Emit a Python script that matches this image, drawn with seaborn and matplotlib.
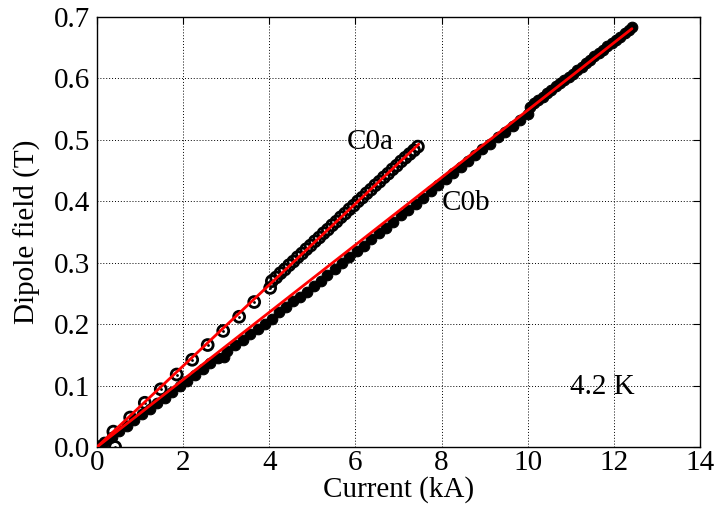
import matplotlib
matplotlib.use("Agg")
import matplotlib.pyplot as plt
import seaborn as sns
import pandas as pd

# ---- data ----
c0a_current = [0.00, 0.38, 0.42, 0.77, 1.11, 1.48, 1.85, 2.21, 2.57, 2.93, 3.30, 3.65, 4.02,
               4.06, 4.16, 4.26, 4.36, 4.46, 4.56, 4.66, 4.76, 4.86, 4.96, 5.06, 5.16, 5.26,
               5.36, 5.46, 5.56, 5.66, 5.76, 5.86, 5.96, 6.06, 6.16, 6.26, 6.36, 6.46, 6.56,
               6.66, 6.76, 6.86, 6.96, 7.06, 7.16, 7.26, 7.36, 7.45]
c0a_field = [0.000, 0.025, 0.000, 0.048, 0.072, 0.094, 0.118, 0.142, 0.166, 0.189, 0.212, 0.236, 0.259,
             0.270, 0.276, 0.283, 0.289, 0.296, 0.302, 0.309, 0.315, 0.322, 0.328, 0.335, 0.341, 0.348,
             0.354, 0.361, 0.367, 0.374, 0.380, 0.387, 0.393, 0.400, 0.406, 0.413, 0.419, 0.426, 0.432,
             0.439, 0.445, 0.452, 0.458, 0.465, 0.471, 0.477, 0.483, 0.489]

c0b_current = [0.00, 0.05, 0.17, 0.35, 0.52, 0.70, 0.87, 1.05, 1.22, 1.40, 1.57, 1.75, 1.92, 2.10,
               2.27, 2.45, 2.62, 2.80, 2.95, 3.02, 3.20, 3.38, 3.55, 3.73, 3.90, 4.06, 4.22, 4.39,
               4.55, 4.71, 4.87, 5.03, 5.19, 5.35, 5.52, 5.69, 5.86, 6.03, 6.20, 6.37, 6.54, 6.71,
               6.88, 7.05, 7.22, 7.40, 7.57, 7.75, 7.92, 8.10, 8.27, 8.44, 8.61, 8.78, 8.95, 9.12,
               9.30, 9.47, 9.65, 9.82, 10.00,
               10.05, 10.15, 10.25, 10.35, 10.45, 10.55, 10.65, 10.75, 10.85, 10.95, 11.05, 11.15,
               11.25, 11.35, 11.45, 11.55, 11.65, 11.75, 11.85, 11.95, 12.05, 12.15, 12.25, 12.35, 12.42]
c0b_field = [0.000, 0.002, 0.008, 0.017, 0.026, 0.035, 0.044, 0.053, 0.062, 0.071, 0.080, 0.090, 0.099, 0.108,
             0.117, 0.127, 0.136, 0.145, 0.146, 0.157, 0.166, 0.174, 0.184, 0.192, 0.200, 0.209, 0.219, 0.228,
             0.237, 0.245, 0.253, 0.262, 0.271, 0.280, 0.290, 0.299, 0.309, 0.319, 0.328, 0.338, 0.348, 0.357,
             0.367, 0.377, 0.386, 0.396, 0.406, 0.416, 0.426, 0.436, 0.446, 0.456, 0.466, 0.476, 0.485, 0.494,
             0.504, 0.513, 0.522, 0.533, 0.542,
             0.554, 0.560, 0.565, 0.570, 0.576, 0.581, 0.587, 0.592, 0.598, 0.603, 0.608, 0.614,
             0.619, 0.625, 0.630, 0.636, 0.641, 0.646, 0.652, 0.657, 0.663, 0.668, 0.674, 0.679, 0.683]

fit_a_current = [0.0, 7.47]
fit_a_field = [0.0, 0.493]
fit_b_current = [0.0, 12.42]
fit_b_field = [0.0, 0.681]

x_ticks = [0, 2, 4, 6, 8, 10, 12, 14]
y_ticks = [0.0, 0.1, 0.2, 0.3, 0.4, 0.5, 0.6, 0.7]
y_tick_labels = ["0.0", "0.1", "0.2", "0.3", "0.4", "0.5", "0.6", "0.7"]

# ---- style ----
sns.set_style("white")
plt.rcParams["font.family"] = ["Liberation Serif", "DejaVu Serif"]
plt.rcParams["font.size"] = 21
plt.rcParams["text.color"] = "black"
plt.rcParams["axes.labelcolor"] = "black"
plt.rcParams["xtick.color"] = "black"
plt.rcParams["ytick.color"] = "black"

df_a = pd.DataFrame({"I": c0a_current, "B": c0a_field})
df_b = pd.DataFrame({"I": c0b_current, "B": c0b_field})
df_fa = pd.DataFrame({"I": fit_a_current, "B": fit_a_field})
df_fb = pd.DataFrame({"I": fit_b_current, "B": fit_b_field})

fig = plt.figure(figsize=(7.15, 5.07), dpi=100)
ax = fig.add_axes([97 / 715, 1 - 447 / 507, (700 - 97) / 715, (447 - 17) / 507])

ax.grid(True, linestyle=(0, (1, 2)), color="black", linewidth=0.7, zorder=0)
ax.set_axisbelow(True)

# C0b filled circles
sns.scatterplot(data=df_b, x="I", y="B", ax=ax, color="black", s=58, marker="o",
                edgecolor="black", linewidth=0.8, zorder=3, legend=False)
# C0a open circles with center dot
sns.scatterplot(data=df_a, x="I", y="B", ax=ax, marker="o", s=62, facecolors="none",
                edgecolor="black", linewidth=2.0, zorder=3, legend=False)
sns.scatterplot(data=df_a, x="I", y="B", ax=ax, marker="o", s=4, color="black",
                edgecolor="black", linewidth=0, zorder=3, legend=False)

# linear fits
sns.lineplot(data=df_fa, x="I", y="B", ax=ax, color="red", linewidth=2.0, zorder=4)
sns.lineplot(data=df_fb, x="I", y="B", ax=ax, color="red", linewidth=2.0, zorder=4)

ax.set_xlim(0, 14)
ax.set_ylim(0, 0.7)
ax.set_xticks(x_ticks)
ax.set_xticklabels([str(t) for t in x_ticks])
ax.set_yticks(y_ticks)
ax.set_yticklabels(y_tick_labels)
ax.tick_params(direction="in", length=5, width=0.8, top=True, right=True,
               labelsize=21, pad=2, colors="black")
ax.tick_params(axis="y", pad=5)
for sp in ax.spines.values():
    sp.set_color("black")
    sp.set_linewidth(1.0)
    sp.set_visible(True)

ax.set_xlabel("Current (kA)", fontsize=21, labelpad=0.5)
ax.set_ylabel("Dipole field (T)", fontsize=21, labelpad=9)

ax.text(6.34, 0.497, "C0a", fontsize=21, ha="center", va="center")
ax.text(8.57, 0.397, "C0b", fontsize=21, ha="center", va="center")
ax.text(11.73, 0.0975, "4.2 K", fontsize=21, ha="center", va="center")

fig.savefig("out.png", dpi=100)
